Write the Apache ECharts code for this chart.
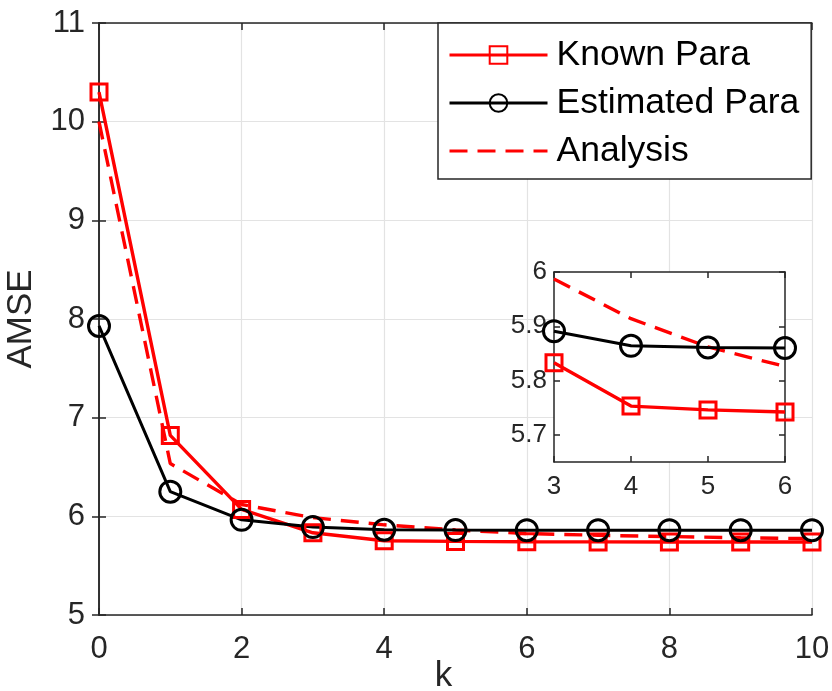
<!DOCTYPE html>
<html><head><meta charset="utf-8">
<script src="https://cdn.jsdelivr.net/npm/echarts@6/dist/echarts.min.js"></script>
<style>html,body{margin:0;padding:0;background:#fff}#c{width:832px;height:691px}</style>
</head><body><div id="c"></div>
<script>
var kValues = [0,1,2,3,4,5,6,7,8,9,10];
var knownPara = [10.30, 6.82, 6.07, 5.833, 5.753, 5.746, 5.742, 5.741, 5.740, 5.740, 5.740];
var estimatedPara = [7.93, 6.25, 5.965, 5.891, 5.864, 5.861, 5.860, 5.860, 5.860, 5.860, 5.860];
var analysis = [10.0, 6.535, 6.12, 5.987, 5.914, 5.862, 5.826, 5.808, 5.795, 5.783, 5.774];
var insetK = [3,4,5,6];
var insetYTicks = [5.7, 5.8, 5.9, 6];

function pairs(xs, ys){ return xs.map(function(x){ return [x, ys[kValues.indexOf(x)]]; }); }

var FONT = 'Liberation Sans';
var AX = '#262626';
var LW = 3.4;
var chart = echarts.init(document.getElementById('c'), null, {renderer:'canvas'});

function mkSeries(name, ys, xs, xi, yi, z){
  var s = {
    name: name, type: 'line', xAxisIndex: xi, yAxisIndex: yi,
    data: pairs(xs, ys), z: z, animation: false, silent: true,
    lineStyle: {width: LW}
  };
  if (name === 'Known Para') {
    s.symbol = 'rect'; s.symbolSize = 16; s.color = '#ff0000';
    s.lineStyle.color = '#ff0000';
    s.itemStyle = {color: 'rgba(255,255,255,0)', borderColor: '#ff0000', borderWidth: 3};
  } else if (name === 'Estimated Para') {
    s.symbol = 'circle'; s.symbolSize = 21; s.color = '#000000';
    s.lineStyle.color = '#000000'; s.lineStyle.width = 3;
    s.itemStyle = {color: 'rgba(255,255,255,0)', borderColor: '#000000', borderWidth: 3};
  } else {
    s.symbol = 'none'; s.color = '#ff0000';
    s.lineStyle.color = '#ff0000'; s.lineStyle.type = [18, 10];
  }
  return s;
}

var option = {
  backgroundColor: '#fff',
  animation: false,
  textStyle: {fontFamily: FONT},
  grid: [
    {left: 99, right: 20, top: 23, bottom: 76, outerBoundsMode: 'none', containLabel: false},
    {left: 554, top: 272, width: 231, height: 190, show: true, backgroundColor: '#fff', borderWidth: 0, z: 5, outerBoundsMode: 'none', containLabel: false}
  ],
  xAxis: [
    {type: 'value', gridIndex: 0, min: 0, max: 10, interval: 2, position: 'bottom',
     name: 'k', nameLocation: 'middle', nameGap: 44, nameMoveOverlap: false,
     nameTextStyle: {fontSize: 35, color: AX, fontFamily: FONT, padding: [0, 24, 0, 0]},
     axisLine: {show: true, lineStyle: {color: AX, width: 1.5}},
     axisTick: {show: true, inside: true, length: 7, lineStyle: {color: AX, width: 1.5}},
     axisLabel: {fontSize: 31, color: AX, margin: 19, fontFamily: FONT},
     splitLine: {show: true, lineStyle: {color: '#e3e3e3', width: 1.2}}},
    {type: 'value', gridIndex: 0, min: 0, max: 10, interval: 2, position: 'top',
     axisLine: {show: true, lineStyle: {color: AX, width: 1.5}},
     axisTick: {show: true, inside: true, length: 7, lineStyle: {color: AX, width: 1.5}},
     axisLabel: {show: false}, splitLine: {show: false}},
    {type: 'value', gridIndex: 1, min: 3, max: 6, interval: 1, position: 'bottom', z: 6,
     axisLine: {show: true, lineStyle: {color: AX, width: 1.5}},
     axisTick: {show: true, inside: true, length: 6, lineStyle: {color: AX, width: 1.5}},
     axisLabel: {fontSize: 26, color: AX, margin: 12, fontFamily: FONT},
     splitLine: {show: false}},
    {type: 'value', gridIndex: 1, min: 3, max: 6, interval: 1, position: 'top', z: 6,
     axisLine: {show: true, lineStyle: {color: AX, width: 1.5}},
     axisTick: {show: true, inside: true, length: 6, lineStyle: {color: AX, width: 1.5}},
     axisLabel: {show: false}, splitLine: {show: false}}
  ],
  yAxis: [
    {type: 'value', gridIndex: 0, min: 5, max: 11, interval: 1, position: 'left',
     name: 'AMSE', nameLocation: 'middle', nameGap: 60, nameRotate: 90, nameMoveOverlap: false,
     nameTextStyle: {fontSize: 35, color: AX, fontFamily: FONT},
     axisLine: {show: true, lineStyle: {color: AX, width: 1.5}},
     axisTick: {show: true, inside: true, length: 7, lineStyle: {color: AX, width: 1.5}},
     axisLabel: {fontSize: 31, color: AX, margin: 14, fontFamily: FONT},
     splitLine: {show: true, lineStyle: {color: '#e3e3e3', width: 1.2}}},
    {type: 'value', gridIndex: 0, min: 5, max: 11, interval: 1, position: 'right',
     axisLine: {show: true, lineStyle: {color: AX, width: 1.5}},
     axisTick: {show: true, inside: true, length: 7, lineStyle: {color: AX, width: 1.5}},
     axisLabel: {show: false}, splitLine: {show: false}},
    {type: 'value', gridIndex: 1, min: 5.65, max: 6, position: 'left', z: 6,
     axisLine: {show: true, lineStyle: {color: AX, width: 1.5}},
     axisTick: {show: true, inside: true, length: 6, customValues: insetYTicks, lineStyle: {color: AX, width: 1.5}},
     axisLabel: {fontSize: 26, color: AX, margin: 7, customValues: insetYTicks, fontFamily: FONT,
       formatter: function(v){ return (Math.round(v*10)/10).toString(); }},
     splitLine: {show: false}},
    {type: 'value', gridIndex: 1, min: 5.65, max: 6, position: 'right', z: 6,
     axisLine: {show: true, lineStyle: {color: AX, width: 1.5}},
     axisTick: {show: true, inside: true, length: 6, customValues: insetYTicks, lineStyle: {color: AX, width: 1.5}},
     axisLabel: {show: false}, splitLine: {show: false}}
  ],
  legend: {
    orient: 'vertical', left: 438, top: 23,
    backgroundColor: '#fff', borderColor: AX, borderWidth: 1.5, borderRadius: 0,
    padding: [14, 12, 10, 10],
    itemWidth: 98, itemHeight: 22, itemGap: 12,
    textStyle: {fontSize: 35.5, color: '#000', fontFamily: FONT, padding: [0, 0, 0, 4]},
    data: [
      {name: 'Known Para', lineStyle: {width: 3}},
      {name: 'Estimated Para', lineStyle: {width: 3}},
      {name: 'Analysis', itemStyle: {opacity: 0}, lineStyle: {width: 3}}
    ]
  },
  series: [
    mkSeries('Known Para', knownPara, kValues, 0, 0, 3),
    mkSeries('Estimated Para', estimatedPara, kValues, 0, 0, 3),
    mkSeries('Analysis', analysis, kValues, 0, 0, 2),
    mkSeries('Known Para', knownPara, insetK, 2, 2, 8),
    mkSeries('Estimated Para', estimatedPara, insetK, 2, 2, 8),
    mkSeries('Analysis', analysis, insetK, 2, 2, 7)
  ]
};
chart.setOption(option);
</script></body></html>
